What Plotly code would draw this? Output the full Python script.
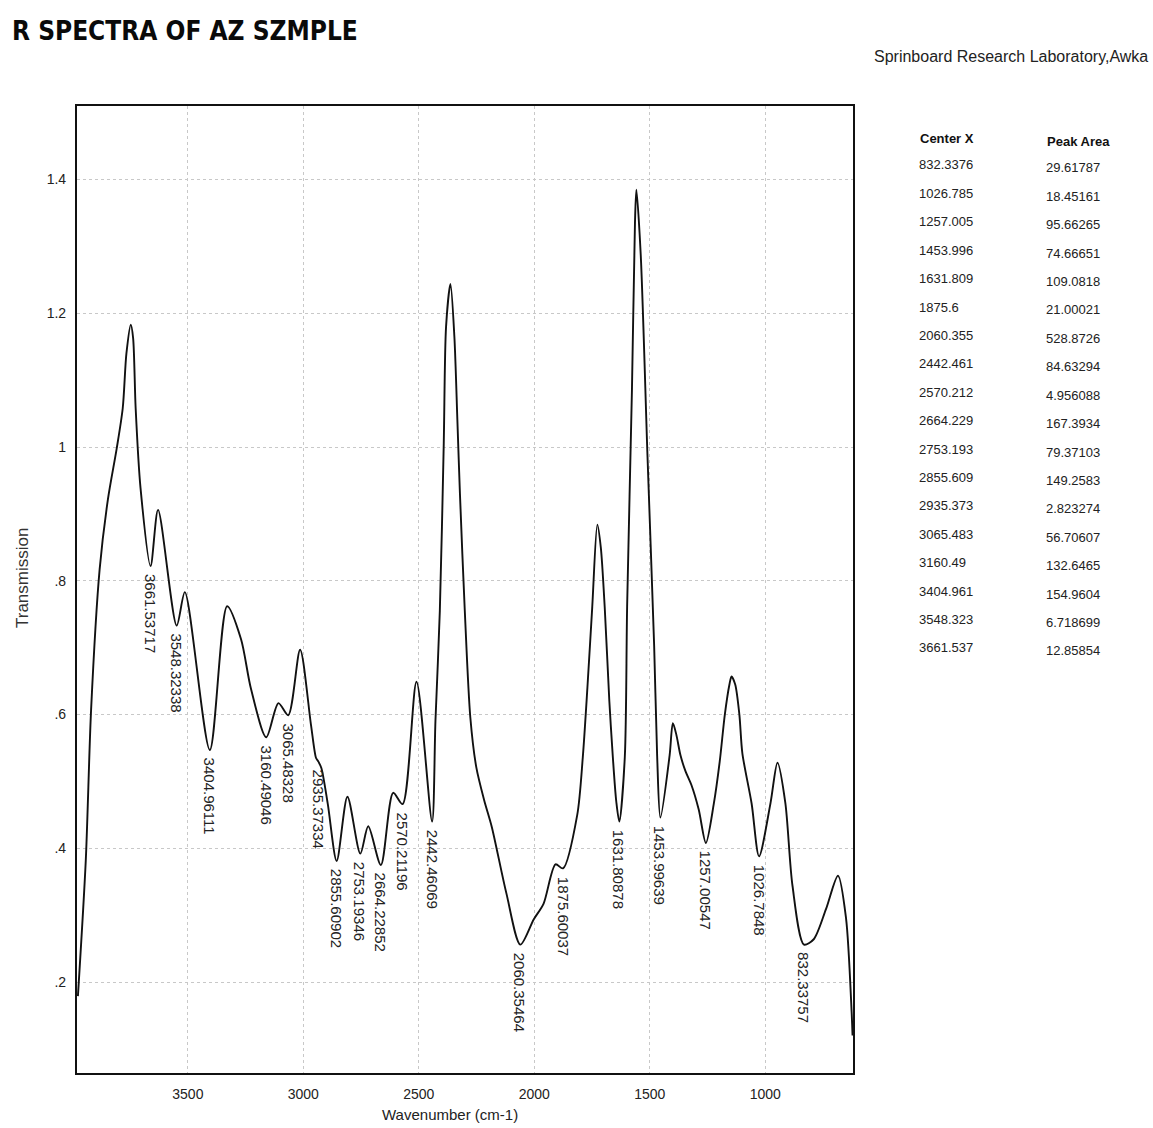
import plotly.graph_objects as go
import numpy as np

# ---------------- data ----------------
wavenumber = [3976, 3942, 3919, 3882, 3846, 3808, 3782, 3766, 3747, 3737, 3726, 3705,
              3661.5, 3629, 3548.3, 3513, 3405.0, 3330, 3270, 3227, 3160.5, 3108, 3065.5,
              3014, 2967, 2945, 2935.4, 2922, 2894, 2855.6, 2809, 2753.2, 2719, 2664.2,
              2611, 2570.2, 2510, 2442.5, 2428, 2409, 2392, 2382, 2363, 2346, 2333, 2322, 2301,
              2277, 2251, 2217, 2184, 2121, 2060.4, 2002, 1960, 1908, 1875.6, 1814, 1790,
              1770, 1749, 1727, 1712, 1695, 1675, 1660, 1645, 1631.8, 1608, 1598, 1577, 1564, 1558,
              1539, 1510, 1481, 1468, 1454.0, 1414, 1400, 1385, 1367, 1345, 1320, 1288,
              1257.0, 1223, 1197, 1175, 1155, 1146, 1130, 1112, 1099, 1059, 1026.8, 977,
              947, 913, 882, 832.3, 790, 737, 685, 650, 626, 622]
transmission = [0.179, 0.382, 0.607, 0.817, 0.922, 0.998, 1.058, 1.140, 1.183, 1.163, 1.058, 0.939,
                0.822, 0.906, 0.733, 0.783, 0.547, 0.762, 0.713, 0.639, 0.566, 0.617, 0.599,
                0.697, 0.585, 0.535, 0.530, 0.520, 0.466, 0.381, 0.477, 0.392, 0.433, 0.375,
                0.483, 0.466, 0.649, 0.440, 0.590, 0.755, 1.005, 1.180, 1.244, 1.165, 1.040, 0.931, 0.756,
                0.596, 0.521, 0.472, 0.432, 0.333, 0.256, 0.294, 0.317, 0.376, 0.370, 0.450, 0.536,
                0.640, 0.761, 0.884, 0.850, 0.760, 0.620, 0.537, 0.470, 0.440, 0.537, 0.762, 1.088,
                1.336, 1.385,
                1.287, 0.988, 0.703, 0.538, 0.446, 0.539, 0.587, 0.570, 0.539, 0.515, 0.495, 0.458,
                0.408, 0.466, 0.530, 0.600, 0.645, 0.657, 0.645, 0.600, 0.542, 0.467, 0.388, 0.468,
                0.528, 0.468, 0.344, 0.256, 0.264, 0.309, 0.359, 0.295, 0.156, 0.120]

peak_centers = [3661.53717, 3548.32338, 3404.96111, 3160.49046, 3065.48328, 2935.37334,
                2855.60902, 2753.19346, 2664.22852, 2570.21196, 2442.46069, 2060.35464,
                1875.60037, 1631.80878, 1453.99639, 1257.00547, 1026.7848, 832.33757]
peak_labels = ["3661.53717", "3548.32338", "3404.96111", "3160.49046", "3065.48328", "2935.37334",
               "2855.60902", "2753.19346", "2664.22852", "2570.21196", "2442.46069", "2060.35464",
               "1875.60037", "1631.80878", "1453.99639", "1257.00547", "1026.7848", "832.33757"]

table_center_x = ["832.3376", "1026.785", "1257.005", "1453.996", "1631.809", "1875.6",
                  "2060.355", "2442.461", "2570.212", "2664.229", "2753.193", "2855.609",
                  "2935.373", "3065.483", "3160.49", "3404.961", "3548.323", "3661.537"]
table_peak_area = ["29.61787", "18.45161", "95.66265", "74.66651", "109.0818", "21.00021",
                   "528.8726", "84.63294", "4.956088", "167.3934", "79.37103", "149.2583",
                   "2.823274", "56.70607", "132.6465", "154.9604", "6.718699", "12.85854"]

x_tick_vals = [3500, 3000, 2500, 2000, 1500, 1000]
x_tick_text = ["3500", "3000", "2500", "2000", "1500", "1000"]
y_tick_vals = [0.2, 0.4, 0.6, 0.8, 1.0, 1.2, 1.4]
y_tick_text = [".2", ".4", ".6", ".8", "1", "1.2", "1.4"]

# ---------------- layout geometry ----------------
W, H = 1153, 1128
L, R, T, B = 77, 853, 106, 1073
FONT = "Liberation Sans, Arial, sans-serif"
NARROW = "Liberation Sans Narrow, DejaVu Sans Condensed, Liberation Sans, Arial, sans-serif"


def px_x(px):
    return (px - L) / (R - L)


def px_y(py):
    return (B - py) / (B - T)


fig = go.Figure()
fig.add_trace(go.Scatter(
    x=wavenumber, y=transmission, mode="lines",
    line=dict(color="#111111", width=1.9, shape="spline", smoothing=0.8),
    hoverinfo="skip", showlegend=False,
))

annotations = []
wn_rev = np.array(wavenumber[::-1], dtype=float)
tr_rev = np.array(transmission[::-1], dtype=float)
for c, lab in zip(peak_centers, peak_labels):
    yv = float(np.interp(c, wn_rev, tr_rev))
    annotations.append(dict(
        x=c, y=yv, xref="x", yref="y", text=lab, showarrow=False,
        textangle=90, xanchor="center", yanchor="top", yshift=-6,
        font=dict(family=FONT, size=15, color="#222222"),
    ))

# title and lab name
annotations.append(dict(
    x=px_x(10), y=px_y(31), xref="paper", yref="paper", text="<b>R SPECTRA OF AZ SZMPLE</b>",
    showarrow=False, xanchor="left", yanchor="middle",
    font=dict(family=NARROW, size=26, color="#0a0a0a"),
))
annotations.append(dict(
    x=px_x(1150), y=px_y(57), xref="paper", yref="paper", text="Sprinboard Research Laboratory,Awka",
    showarrow=False, xanchor="right", yanchor="middle",
    font=dict(family=FONT, size=16, color="#222222"),
))
# axis titles
annotations.append(dict(
    x=px_x(22), y=px_y(578), xref="paper", yref="paper", text="Transmission",
    showarrow=False, textangle=-90, xanchor="center", yanchor="middle",
    font=dict(family=FONT, size=17, color="#333333"),
))
annotations.append(dict(
    x=px_x(450), y=px_y(1114), xref="paper", yref="paper", text="Wavenumber (cm-1)",
    showarrow=False, xanchor="center", yanchor="middle",
    font=dict(family=FONT, size=15, color="#222222"),
))
# table
annotations.append(dict(
    x=px_x(918), y=px_y(138), xref="paper", yref="paper", text="<b>Center X</b>",
    showarrow=False, xanchor="left", yanchor="middle",
    font=dict(family=FONT, size=13, color="#111111"),
))
annotations.append(dict(
    x=px_x(1045), y=px_y(141), xref="paper", yref="paper", text="<b>Peak Area</b>",
    showarrow=False, xanchor="left", yanchor="middle",
    font=dict(family=FONT, size=13, color="#111111"),
))
for i, (cx, pa) in enumerate(zip(table_center_x, table_peak_area)):
    ry = 165 + i * 28.4
    annotations.append(dict(
        x=px_x(917), y=px_y(ry), xref="paper", yref="paper", text=cx,
        showarrow=False, xanchor="left", yanchor="middle",
        font=dict(family=FONT, size=13, color="#222222"),
    ))
    annotations.append(dict(
        x=px_x(1044), y=px_y(ry + 3), xref="paper", yref="paper", text=pa,
        showarrow=False, xanchor="left", yanchor="middle",
        font=dict(family=FONT, size=13, color="#222222"),
    ))

fig.update_layout(
    width=W, height=H,
    margin=dict(l=L, r=W - R, t=T, b=H - B, pad=0),
    paper_bgcolor="white", plot_bgcolor="white",
    annotations=annotations,
    showlegend=False,
    xaxis=dict(
        range=[3980, 620], tickvals=x_tick_vals, ticktext=x_tick_text,
        showline=True, linecolor="#111111", linewidth=2.2, mirror=True,
        showgrid=True, gridcolor="#c8c8c8", griddash="dot", gridwidth=1,
        zeroline=False, ticks="", ticklabelstandoff=7,
        tickfont=dict(family=FONT, size=14, color="#222222"),
    ),
    yaxis=dict(
        range=[0.064, 1.51], tickvals=y_tick_vals, ticktext=y_tick_text,
        showline=True, linecolor="#111111", linewidth=2.2, mirror=True,
        showgrid=True, gridcolor="#c8c8c8", griddash="dot", gridwidth=1,
        zeroline=False, ticks="", ticklabelstandoff=6,
        tickfont=dict(family=FONT, size=14, color="#222222"),
    ),
)

fig.write_html("out.html")
